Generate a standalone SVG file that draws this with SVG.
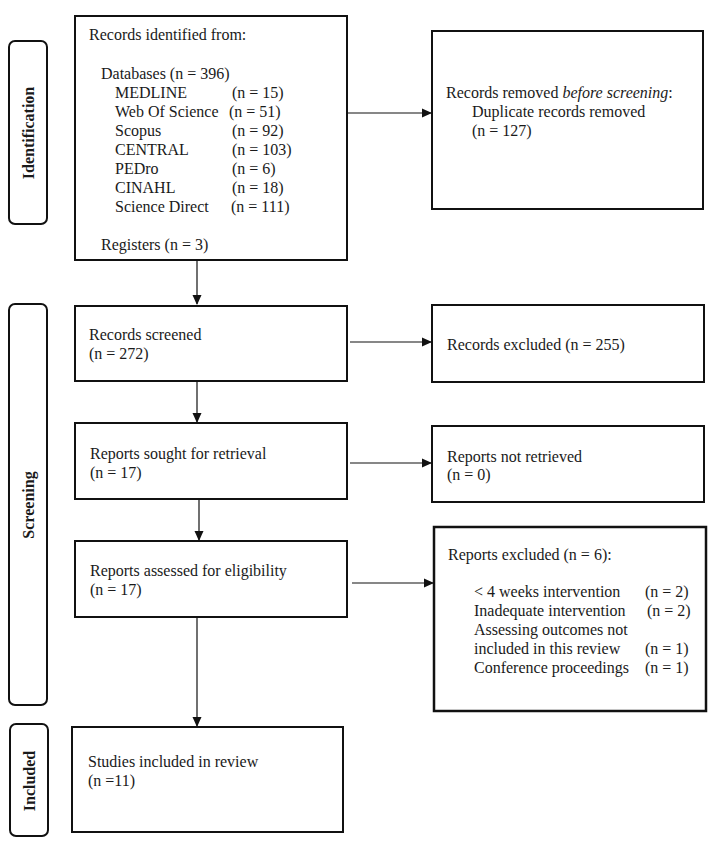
<svg xmlns="http://www.w3.org/2000/svg" width="717" height="843" viewBox="0 0 717 843">
<style>
.box{fill:#fff;stroke:#111;stroke-width:2}
.lab{fill:#fff;stroke:#111;stroke-width:2}
text{font-family:"Liberation Serif","Times New Roman",serif;font-size:16px;fill:#1a1a1a}
.b{font-weight:bold;text-anchor:middle}
.ln{stroke:#111;stroke-width:1.2;fill:none}
</style>
<defs>
<marker id="ah" markerWidth="10" markerHeight="10" refX="9" refY="5" orient="auto" markerUnits="userSpaceOnUse">
<path d="M0,0.5 L10,5 L0,9.5 Z" fill="#111"/>
</marker>
</defs>
<rect width="717" height="843" fill="#fff"/>
<g id="label-identification">
<rect class="lab" x="9" y="41" width="38" height="183" rx="6"/>
<text class="b" transform="translate(34,133) rotate(-90)">Identification</text>
</g>
<g id="label-screening">
<rect class="lab" x="9" y="304" width="38" height="401" rx="6"/>
<text class="b" transform="translate(34,505) rotate(-90)">Screening</text>
</g>
<g id="label-included">
<rect class="lab" x="10" y="724" width="38" height="112" rx="6"/>
<text class="b" transform="translate(35,781) rotate(-90)">Included</text>
</g>
<g id="identified">
<rect class="box" x="75" y="16" width="272" height="244"/>
<text x="89" y="40">Records identified from:</text>
<text x="101" y="79">Databases (n = 396)</text>
<text x="115" y="98">MEDLINE</text><text x="232" y="98">(n = 15)</text>
<text x="115" y="117">Web Of Science</text><text x="229" y="117">(n = 51)</text>
<text x="115" y="136">Scopus</text><text x="232" y="136">(n = 92)</text>
<text x="115" y="155">CENTRAL</text><text x="232" y="155">(n = 103)</text>
<text x="115" y="174">PEDro</text><text x="232" y="174">(n = 6)</text>
<text x="115" y="193">CINAHL</text><text x="232" y="193">(n = 18)</text>
<text x="115" y="212">Science Direct</text><text x="231" y="212">(n = 111)</text>
<text x="101" y="250">Registers (n = 3)</text>
</g>
<g id="removed">
<rect class="box" x="432" y="31" width="271" height="178"/>
<text x="446" y="98">Records removed <tspan font-style="italic">before screening</tspan>:</text>
<text x="472" y="117">Duplicate records removed</text>
<text x="472" y="136">(n = 127)</text>
</g>
<g id="screened">
<rect class="box" x="75" y="306" width="272" height="75"/>
<text x="89" y="340">Records screened</text>
<text x="89" y="359">(n = 272)</text>
</g>
<g id="excluded">
<rect class="box" x="432" y="305" width="272" height="77"/>
<text x="447" y="350">Records excluded (n = 255)</text>
</g>
<g id="sought">
<rect class="box" x="75" y="423" width="272" height="76"/>
<text x="90" y="459">Reports sought for retrieval</text>
<text x="90" y="478">(n = 17)</text>
</g>
<g id="notretrieved">
<rect class="box" x="432" y="426" width="272" height="76"/>
<text x="447" y="462">Reports not retrieved</text>
<text x="447" y="480">(n = 0)</text>
</g>
<g id="assessed">
<rect class="box" x="75" y="541" width="272" height="76"/>
<text x="90" y="576">Reports assessed for eligibility</text>
<text x="90" y="595">(n = 17)</text>
</g>
<g id="reportsexcluded">
<rect class="box" x="434" y="527" width="272" height="184" style="stroke-width:2.5"/>
<text x="448" y="560">Reports excluded (n = 6):</text>
<text x="474" y="597">&lt; 4 weeks intervention</text><text x="645" y="597">(n = 2)</text>
<text x="474" y="616">Inadequate intervention</text><text x="647" y="616">(n = 2)</text>
<text x="474" y="635">Assessing outcomes not</text>
<text x="474" y="654">included in this review</text><text x="645" y="654">(n = 1)</text>
<text x="474" y="673">Conference proceedings</text><text x="645" y="673">(n = 1)</text>
</g>
<g id="included">
<rect class="box" x="72" y="727" width="271" height="105"/>
<text x="88" y="767">Studies included in review</text>
<text x="88" y="786">(n =11)</text>
</g>
<g id="connectors">
<line class="ln" x1="347" y1="113" x2="431" y2="113" marker-end="url(#ah)"/>
<line class="ln" x1="197" y1="260" x2="197" y2="304" marker-end="url(#ah)"/>
<line class="ln" x1="350" y1="342" x2="431" y2="342" marker-end="url(#ah)"/>
<line class="ln" x1="197" y1="381" x2="197" y2="422" marker-end="url(#ah)"/>
<line class="ln" x1="350" y1="463" x2="431" y2="463" marker-end="url(#ah)"/>
<line class="ln" x1="199" y1="499" x2="199" y2="540" marker-end="url(#ah)"/>
<line class="ln" x1="352" y1="583" x2="433" y2="583" marker-end="url(#ah)"/>
<line class="ln" x1="197" y1="617" x2="197" y2="726" marker-end="url(#ah)"/>
</g>
</svg>
